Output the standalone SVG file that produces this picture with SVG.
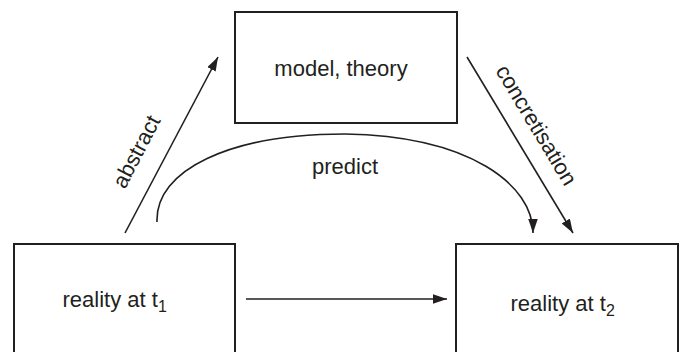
<svg xmlns="http://www.w3.org/2000/svg" width="681" height="352" viewBox="0 0 681 352">
<style>
.box{fill:#fff;stroke:#231f20;stroke-width:2}
.lbl{font-family:"Liberation Sans",Arial,sans-serif;font-size:22px;fill:#231f20}
.edge{fill:none;stroke:#231f20;stroke-width:1.6}
</style>
<defs>
<marker id="ah" markerUnits="userSpaceOnUse" markerWidth="15" markerHeight="10" refX="14" refY="4.75" orient="auto">
<path d="M0,0 L14,4.75 L0,9.5 z" fill="#231f20"/>
</marker>
</defs>
<rect width="681" height="352" fill="#fff"/>
<g id="model">
<rect class="box" x="235" y="12" width="222" height="111"/>
<text class="lbl" x="341" y="76" text-anchor="middle">model, theory</text>
</g>
<g id="reality1">
<rect class="box" x="14" y="244" width="221" height="120"/>
<text class="lbl" x="62.5" y="307">reality at t<tspan font-size="16" dy="5">1</tspan></text>
</g>
<g id="reality2">
<rect class="box" x="456" y="244" width="222" height="120"/>
<text class="lbl" x="510.5" y="311">reality at t<tspan font-size="16" dy="5">2</tspan></text>
</g>
<g id="connectors">
<line class="edge" x1="125" y1="233" x2="218" y2="57" marker-end="url(#ah)"/>
<line class="edge" x1="467" y1="57" x2="573" y2="233" marker-end="url(#ah)"/>
<line class="edge" x1="246" y1="299" x2="447" y2="299" marker-end="url(#ah)"/>
<path class="edge" d="M157,222 C155,170 230,134 345,134 C470,136 533,185 533,233" marker-end="url(#ah)"/>
<text class="lbl" transform="translate(143,155) rotate(-62.5)" text-anchor="middle">abstract</text>
<text class="lbl" transform="translate(530,129) rotate(59)" text-anchor="middle">concretisation</text>
<text class="lbl" x="345" y="174" text-anchor="middle">predict</text>
</g>
</svg>
